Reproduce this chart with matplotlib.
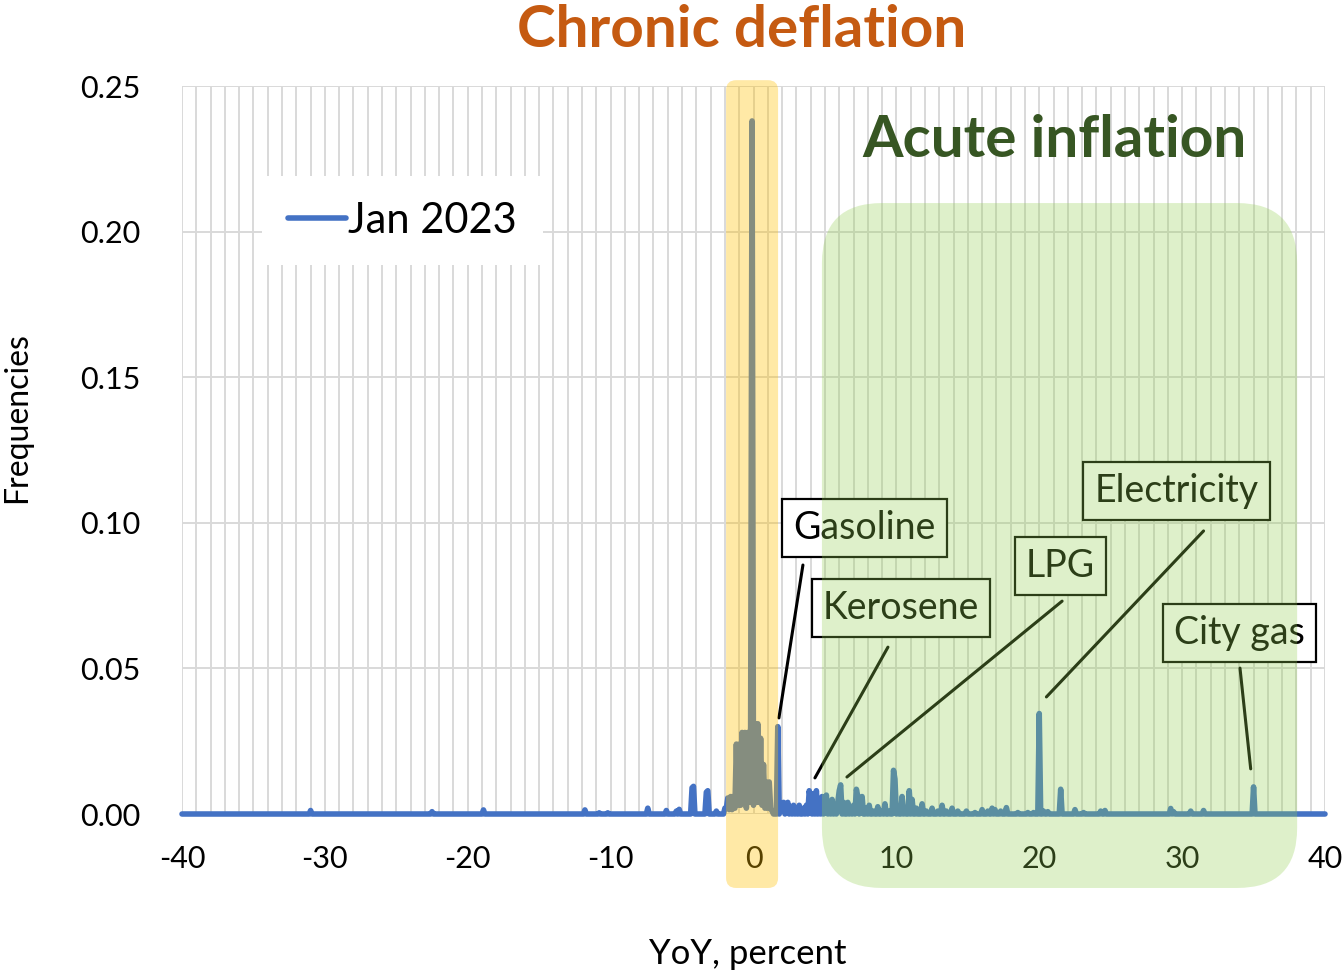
import numpy as np
import matplotlib
matplotlib.use("Agg")
import matplotlib.pyplot as plt
from matplotlib.patches import FancyBboxPatch

plt.rcParams['font.family'] = ['Lato', 'DejaVu Sans']

# ---------------- data ----------------
bin_step = 0.1
x_min, x_max = -40, 40
series_label = "Jan 2023"

# YoY bins (percent) with a non-zero frequency, and their frequencies
nz_x = [-31.0, -22.5, -18.9, -11.8, -10.8, -10.2, -7.4, -6.1, -5.4, -5.2,
        -4.3, -4.2, -3.3, -3.2, -2.6, -2.0,
        -1.9, -1.8, -1.7, -1.6, -1.5, -1.4, -1.3, -1.2, -1.1, -1.0,
        -0.9, -0.8, -0.7, -0.6, -0.5, -0.4, -0.3, -0.2, -0.1, 0.0,
        0.1, 0.2, 0.3, 0.4, 0.5, 0.6, 0.7, 0.8, 0.9, 1.0,
        1.1, 1.2, 1.3, 1.7,
        1.9, 2.0, 2.1, 2.3, 2.4, 2.6, 2.8, 3.0, 3.2, 3.5,
        3.7, 3.9, 4.0, 4.2, 4.4, 4.6, 4.8, 5.0, 5.1, 5.3,
        5.5, 5.7, 5.9, 6.0, 6.1, 6.3, 6.6, 6.8, 7.0, 7.2,
        7.3, 7.5, 7.6, 7.9, 8.1, 8.4, 8.7, 9.0, 9.2, 9.5,
        9.8, 9.9, 10.1, 10.4, 10.6, 10.9, 11.1, 11.4, 11.8, 12.1,
        12.5, 12.9, 13.2, 13.5, 13.9, 14.3, 14.9, 15.5, 16.0, 16.4,
        16.7, 16.9, 17.3, 17.7, 18.5, 19.2, 19.6, 20.0, 20.3, 20.6,
        21.5, 22.5, 23.1, 24.3, 24.6, 29.2, 29.4, 30.6, 31.5, 35.0]
nz_y = [0.0012, 0.0008, 0.0014, 0.0014, 0.0004, 0.0004, 0.0020, 0.0012, 0.0010, 0.0016,
        0.0090, 0.0095, 0.0075, 0.0080, 0.0010, 0.0020,
        0.0020, 0.0055, 0.0015, 0.0060, 0.0015, 0.0060, 0.0020, 0.0240, 0.0030, 0.0240,
        0.0030, 0.0280, 0.0040, 0.0280, 0.0020, 0.0280, 0.0040, 0.0300, 0.2380, 0.0030,
        0.0310, 0.0040, 0.0310, 0.0040, 0.0260, 0.0030, 0.0170, 0.0020, 0.0110, 0.0020,
        0.0110, 0.0020, 0.0010, 0.0300,
        0.0030, 0.0010, 0.0040, 0.0020, 0.0040, 0.0020, 0.0030, 0.0010, 0.0030, 0.0020,
        0.0030, 0.0080, 0.0050, 0.0070, 0.0080, 0.0040, 0.0060, 0.0030, 0.0065, 0.0030,
        0.0050, 0.0020, 0.0040, 0.0080, 0.0100, 0.0040, 0.0040, 0.0020, 0.0030, 0.0085,
        0.0060, 0.0030, 0.0060, 0.0020, 0.0030, 0.0010, 0.0025, 0.0010, 0.0035, 0.0010,
        0.0150, 0.0120, 0.0020, 0.0060, 0.0020, 0.0080, 0.0050, 0.0020, 0.0035, 0.0010,
        0.0020, 0.0010, 0.0030, 0.0010, 0.0020, 0.0010, 0.0010, 0.0005, 0.0015, 0.0010,
        0.0020, 0.0015, 0.0010, 0.0022, 0.0005, 0.0005, 0.0005, 0.0345, 0.0010, 0.0008,
        0.0085, 0.0015, 0.0005, 0.0010, 0.0012, 0.0019, 0.0008, 0.0010, 0.0012, 0.0093]

x_ticks = list(range(-40, 41, 10))
y_ticks = [0.00, 0.05, 0.10, 0.15, 0.20, 0.25]

ann_labels = ["Gasoline", "Kerosene", "LPG", "Electricity", "City gas"]

# ---------------- build series ----------------
xs = np.round(np.arange(x_min, x_max + bin_step / 2, bin_step), 1)
freq = np.zeros_like(xs)
for xv, yv in zip(nz_x, nz_y):
    freq[np.argmin(np.abs(xs - xv))] = yv

# ---------------- figure ----------------
W, H, DPI = 1342, 973, 100
fig = plt.figure(figsize=(W / DPI, H / DPI), dpi=DPI)
ax_l, ax_r, ax_t, ax_b = 182, 1325, 86, 814
ax = fig.add_axes([ax_l / W, 1 - ax_b / H, (ax_r - ax_l) / W, (ax_b - ax_t) / H])

blue = '#4472C4'
grid_c = '#D9D9D9'

ax.plot(xs, freq, color=blue, lw=4.0, solid_joinstyle='round',
        solid_capstyle='round', clip_on=False, zorder=3, label=series_label)

ax.set_xlim(x_min, x_max)
ax.set_ylim(0, 0.25)
ax.set_xticks(x_ticks)
ax.set_xticklabels([str(t) for t in x_ticks])
ax.set_xticks(np.arange(x_min, x_max + 1, 1), minor=True)
ax.set_yticks(y_ticks)
ax.set_yticklabels([f"{t:.2f}" for t in y_ticks])
ax.grid(True, which='both', axis='x', color=grid_c, lw=1.4, zorder=0)
ax.grid(True, which='major', axis='y', color=grid_c, lw=1.4, zorder=0)
ax.set_axisbelow(True)
for s in ax.spines.values():
    s.set_visible(False)
ax.tick_params(axis='both', which='both', length=0, labelsize=22)
ax.tick_params(axis='y', pad=30)
ax.tick_params(axis='x', pad=22)

ax.set_xlabel("YoY, percent", fontsize=25)
ax.xaxis.set_label_coords(0.495, -0.170)
ax.set_ylabel("Frequencies", fontsize=23)
ax.yaxis.set_label_coords(-0.131, 0.544)

leg = ax.legend(loc='center', bbox_to_anchor=(0.1929, 0.8152), fontsize=30,
                frameon=True, fancybox=False, framealpha=1, edgecolor='none',
                facecolor='white', handlelength=1.4, handletextpad=0.05,
                borderpad=0.62)
leg.get_lines()[0].set_linewidth(4)

# ---------------- annotations ----------------
box_xy = [(7.75, 0.0982), (10.32, 0.0707), (21.5, 0.0852), (29.6, 0.111), (34.0, 0.0622)]
line_start = [(3.46, 0.0855), (9.41, 0.0573), (21.6, 0.0731), (31.5, 0.0972), (34.05, 0.0501)]
line_end = [(1.78, 0.033), (4.3, 0.0124), (6.54, 0.0127), (20.5, 0.0402), (34.8, 0.0155)]
for lab, bxy, ls, le in zip(ann_labels, box_xy, line_start, line_end):
    ax.text(bxy[0], bxy[1], lab, fontsize=27, ha='center', va='center', zorder=6,
            bbox=dict(boxstyle='square,pad=0.3', fc='white', ec='black', lw=1.6))
    ax.annotate('', xy=le, xytext=ls, zorder=6,
                arrowprops=dict(arrowstyle='-', color='black', lw=2.2,
                                shrinkA=0, shrinkB=0))

ax.text(0.49, 1.0760, "Chronic deflation", transform=ax.transAxes, ha='center',
        va='center', fontsize=42, fontweight='bold', color='#C55A11')
ax.text(0.763, 0.9250, "Acute inflation", transform=ax.transAxes, ha='center',
        va='center', fontsize=42, fontweight='bold', color='#375623')

# ---------------- translucent highlight regions ----------------
px_per_x = (ax_r - ax_l) / (x_max - x_min)
px_per_y = (ax_b - ax_t) / 0.25
asp = px_per_x / px_per_y

def region(x0, x1, y0, y1, r_px, color, alpha):
    p = FancyBboxPatch((x0, y0), x1 - x0, y1 - y0,
                       boxstyle=f"round,pad=0,rounding_size={r_px / px_per_x}",
                       mutation_aspect=asp, transform=ax.transData,
                       clip_on=False, zorder=20, facecolor=color, alpha=alpha,
                       edgecolor='none')
    ax.add_patch(p)

region(-1.92, 1.72, -0.0254, 0.252, 10, '#FFC000', 0.35)
region(4.79, 38.05, -0.0254, 0.2098, 60, '#92D050', 0.30)

fig.savefig('out.png', dpi=DPI)
